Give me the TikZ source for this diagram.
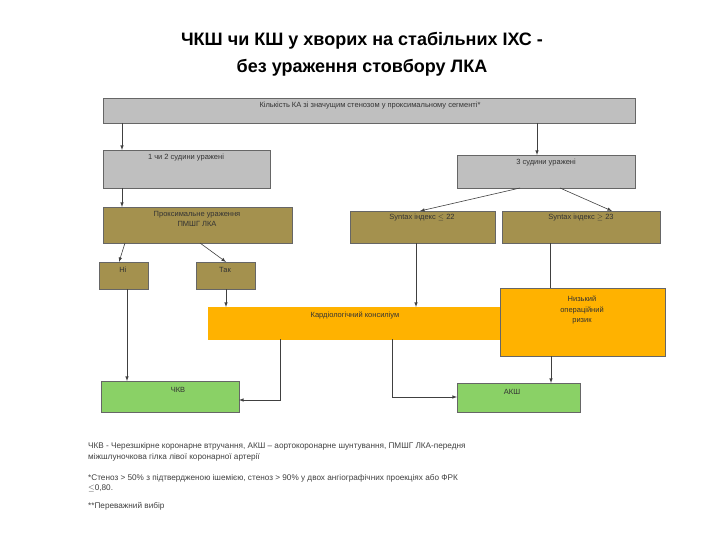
\documentclass[tikz,border=0pt]{standalone}
\usepackage{fontspec}
\setmainfont{Liberation Sans}
\begin{document}
\begin{tikzpicture}[x=1pt,y=-1pt,
 bx/.style={draw=black!60,line width=0.6pt,anchor=north west,inner sep=0pt},
 gr/.style={bx,fill=black!25},
 ol/.style={bx,fill=olive!45!brown!70!gray},
 og/.style={bx,fill=orange!60!yellow},
 gn/.style={bx,fill=green!55!lime!70!black!60!white},
 tx/.style={font=\fontsize{7.5}{9.5}\selectfont,text=black!80,align=center},
 ar/.style={-latex,black!75,line width=0.6pt},
 fn/.style={anchor=west,font=\fontsize{8.2}{9}\selectfont,text=black!75,inner sep=0pt}]
\useasboundingbox (0,0) rectangle (720,540);
\node[font=\bfseries\fontsize{18}{27}\selectfont,align=center] (title) at (362,54) {ЧКШ чи КШ у  хворих на стабільних ІХС -\\без ураження стовбору ЛКА};
\node[gr,minimum width=532,minimum height=25] (top) at (103,98) {};
\node[tx] (ttop) at (370,106) {Кількість КА зі значущим стенозом у проксимальному сегменті*};
\node[gr,minimum width=167,minimum height=38] (b1) at (103,150) {};
\node[tx] (tb1) at (186,158) {1 чи 2 судини уражені};
\node[gr,minimum width=178,minimum height=33] (b2) at (457,155) {};
\node[tx] (tb2) at (546,163) {3 судини уражені};
\node[ol,minimum width=189,minimum height=36] (prox) at (103,207) {};
\node[tx] (tprox) at (197,219) {Проксимальне ураження\\ПМШГ ЛКА};
\node[ol,minimum width=145,minimum height=32] (s1) at (350,211) {};
\node[tx] (ts1) at (422,218) {Syntax індекс $\le$ 22};
\node[ol,minimum width=158,minimum height=32] (s2) at (502,211) {};
\node[tx] (ts2) at (581,218) {Syntax індекс $\ge$ 23};
\node[ol,minimum width=49,minimum height=27] (ni) at (99,262) {};
\node[tx] (tni) at (123,270) {Ні};
\node[ol,minimum width=59,minimum height=27] (tak) at (196,262) {};
\node[tx] (ttak) at (225,270) {Так};
\node[og,draw=orange!60!yellow,minimum width=302,minimum height=32] (kons) at (208,307) {};
\node[tx] (tkons) at (355,315) {Кардіологічний консиліум};
\node[og,minimum width=165,minimum height=68] (low) at (500,288) {};
\node[tx,font=\fontsize{7.5}{10.5}\selectfont] (tlow) at (582,310) {Низький\\операційний\\ризик};
\node[gn,minimum width=138,minimum height=31] (pci) at (101,381) {};
\node[tx] (tpci) at (178,390) {ЧКВ};
\node[gn,minimum width=123,minimum height=29] (cabg) at (457,383) {};
\node[tx] (tcabg) at (512,392) {АКШ};
\draw[ar] (122,123) -- (122,150);
\draw[ar] (537,123) -- (537,155);
\draw[ar] (122,188) -- (122,207);
\draw[ar] (520,188) -- (420,211);
\draw[ar] (560,188) -- (612,211);
\draw[ar] (125,243) -- (119,262);
\draw[ar] (200,243) -- (226,262);
\draw[ar] (127,289) -- (127,381);
\draw[ar] (226,289) -- (226,307);
\draw[ar] (416,243) -- (416,307);
\draw[black!75,line width=0.6pt] (550,243) -- (550,288);
\draw[ar] (280,339) -- (280,400) -- (239,400);
\draw[ar] (392,339) -- (392,397) -- (457,397);
\draw[ar] (551,356) -- (551,383);
\node[fn] (f1) at (88,446) {ЧКВ - Черезшкірне коронарне втручання, АКШ – аортокоронарне шунтування, ПМШГ ЛКА-передня};
\node[fn] (f2) at (88,457) {міжшлуночкова гілка лівої коронарної артерії};
\node[fn] (f3) at (88,478) {*Стеноз  > 50\% з підтвердженою ішемією, стеноз > 90\% у двох ангіографічних проекціях або ФРК};
\node[fn] (f4) at (88,488) {$\le$0,80.};
\node[fn] (f5) at (88,506) {**Переважний вибір};
\end{tikzpicture}
\end{document}
